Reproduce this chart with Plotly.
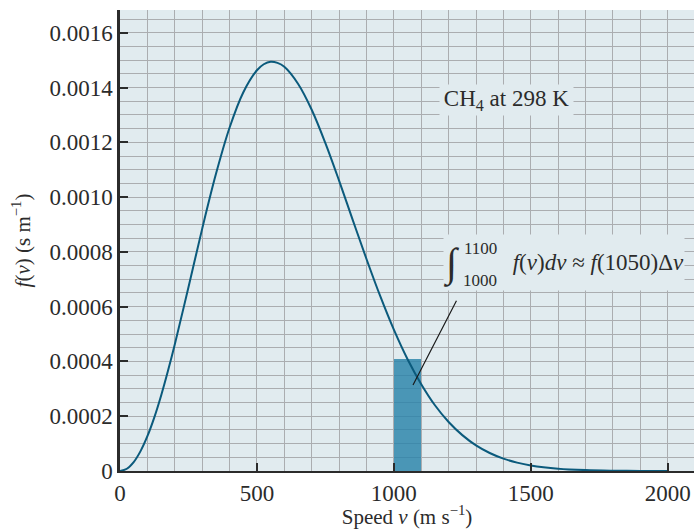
import plotly.graph_objects as go

# Speeds (m/s) and f(v) values (s/m)
speeds = [0, 25, 50, 75, 100, 125, 150, 175, 200, 250, 300, 350, 400, 450, 500, 525,
          550, 575, 600, 650, 700, 750, 800, 850, 900, 950, 1000,
          1050, 1100, 1150, 1200, 1250, 1300, 1350, 1400, 1450, 1500,
          1600, 1700, 1800, 1900, 2000]
f_values = [0, 8.2e-6, 3.26e-5, 7.26e-5, 1.27e-4, 1.95e-4, 2.75e-4, 3.65e-4, 4.62e-4, 6.71e-4, 8.84e-4,
            1.083e-3, 1.253e-3, 1.382e-3, 1.463e-3, 1.485e-3,
            1.494e-3, 1.490e-3, 1.476e-3, 1.414e-3, 1.319e-3, 1.197e-3, 1.060e-3, 9.16e-4, 7.74e-4, 6.39e-4, 5.16e-4,
            4.08e-4, 3.17e-4, 2.40e-4, 1.79e-4, 1.31e-4, 9.35e-5, 6.57e-5, 4.52e-5, 3.06e-5, 2.03e-5,
            8.5e-6, 3.3e-6, 1.2e-6, 4e-7, 1e-7]

# Highlighted interval bar (1000-1100 m/s, height f(1050))
bar_center = [1050]
bar_width = [100]
bar_height = [4.08e-4]

x_tickvals = [0, 500, 1000, 1500, 2000]
x_ticktext = ["0", "500", "1000", "1500", "2000"]
y_tickvals = [0, 0.0002, 0.0004, 0.0006, 0.0008, 0.0010, 0.0012, 0.0014, 0.0016]
y_ticktext = ["0", "0.0002", "0.0004", "0.0006", "0.0008", "0.0010", "0.0012", "0.0014", "0.0016"]

FONT = "Liberation Serif"
BG = "#e1ebef"
GRID = "#abadb0"
AXIS = "#2b2b2b"
CURVE = "#0b5a7c"
TXT = "#2b2b2b"

fig = go.Figure()
fig.add_trace(go.Bar(x=bar_center, y=bar_height, width=bar_width,
                     marker=dict(color="rgba(40,130,170,0.82)", line=dict(width=0)),
                     showlegend=False, hoverinfo="skip"))
fig.add_trace(go.Scatter(x=speeds, y=f_values, mode="lines",
                         line=dict(color=CURVE, width=2, shape="spline", smoothing=1.0),
                         showlegend=False))

fig.update_layout(
    width=694, height=529,
    margin=dict(l=120, r=0, t=10, b=58),
    paper_bgcolor="white", plot_bgcolor=BG,
    font=dict(family=FONT, size=23, color=TXT),
    bargap=0,
)

fig.update_xaxes(
    automargin=False,
    range=[0, 2096], tickvals=x_tickvals, ticktext=x_ticktext,
    ticks="inside", ticklen=8, tickwidth=2, tickcolor=AXIS,
    showline=True, linecolor=AXIS, linewidth=2,
    showgrid=True, gridcolor=GRID, gridwidth=1,
    minor=dict(dtick=100, tick0=0, showgrid=True, gridcolor=GRID, gridwidth=1, ticks=""),
    zeroline=False,
    tickfont=dict(family=FONT, size=23, color=TXT),
    title=dict(text="Speed <i>v</i> (m s<sup>−1</sup>)", font=dict(family=FONT, size=21, color=TXT), standoff=4),
)
fig.update_yaxes(
    automargin=False,
    range=[0, 0.001683], tickvals=y_tickvals, ticktext=y_ticktext,
    ticks="inside", ticklen=8, tickwidth=2, tickcolor=AXIS,
    showline=True, linecolor=AXIS, linewidth=2.5,
    showgrid=True, gridcolor=GRID, gridwidth=1,
    minor=dict(dtick=0.00005, tick0=0, showgrid=True, gridcolor=GRID, gridwidth=1, ticks=""),
    zeroline=False,
    tickfont=dict(family=FONT, size=23, color=TXT),
    title=dict(text="<i>f</i>(<i>v</i>) (s m<sup>−1</sup>)", font=dict(family=FONT, size=21, color=TXT), standoff=14),
)

# CH4 label
fig.add_annotation(x=1413, y=0.001354, xref="x", yref="y", showarrow=False,
                   text="CH<sub>4</sub> at 298 K", font=dict(family=FONT, size=23, color=TXT),
                   bgcolor=BG, width=133, height=30, borderpad=0)

# leader line from label to the bar
fig.add_annotation(x=1070, y=0.000314, xref="x", yref="y", ax=1245, ay=0.000653,
                   axref="x", ayref="y", showarrow=True, arrowhead=0, arrowwidth=1.2,
                   arrowcolor="#1a1a1a", text=" ")

# integral label: background box + main text
fig.add_annotation(x=1621, y=0.000761, xref="x", yref="y", showarrow=False,
                   text="<i>f</i>(<i>v</i>)<i>dv</i> ≈ <i>f</i>(1050)Δ<i>v</i>",
                   font=dict(family=FONT, size=23, color=TXT),
                   bgcolor=BG, width=240, height=55, borderpad=0, align="right")
fig.add_annotation(x=1212, y=0.000756, xref="x", yref="y", showarrow=False,
                   text="∫", font=dict(family=FONT, size=40, color=TXT))
fig.add_annotation(x=1315, y=0.000812, xref="x", yref="y", showarrow=False,
                   text="1100", font=dict(family=FONT, size=17, color=TXT))
fig.add_annotation(x=1315, y=0.000697, xref="x", yref="y", showarrow=False,
                   text="1000", font=dict(family=FONT, size=17, color=TXT))

fig.write_html("out.html", config={"displayModeBar": False})

# remove the default page margin so the figure sits at the window's corner
with open("out.html", "r", encoding="utf-8") as fh:
    html = fh.read()
html = html.replace("<head>", "<head><style>html,body{margin:0;padding:0;overflow:hidden;}</style>", 1)
with open("out.html", "w", encoding="utf-8") as fh:
    fh.write(html)
